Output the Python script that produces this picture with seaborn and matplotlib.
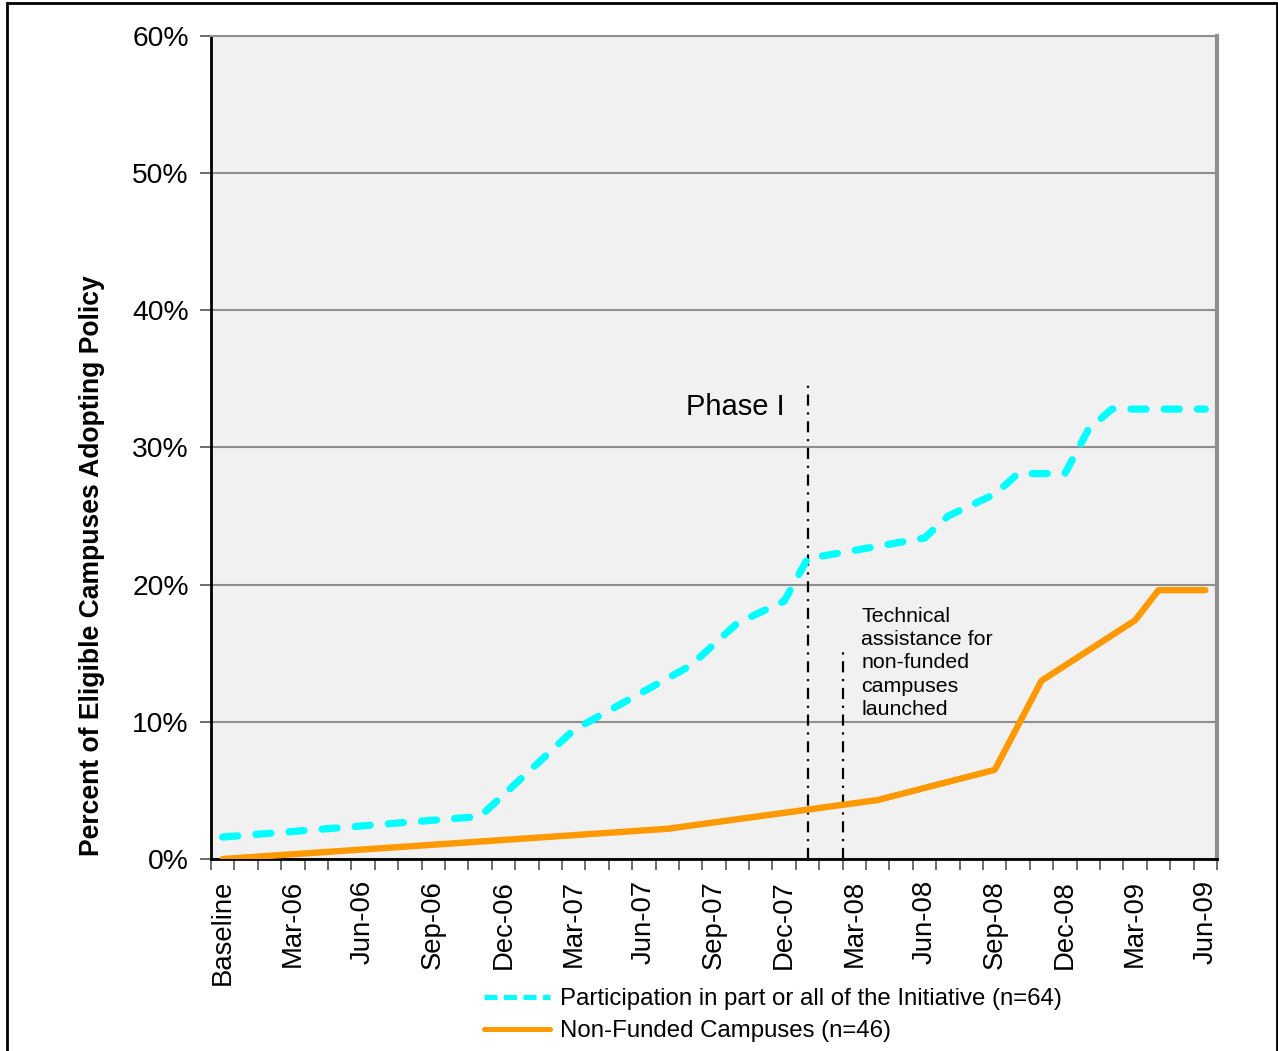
"""
Policy adoption over time: initiative participants vs non-funded campuses.
"""

import matplotlib
matplotlib.use("Agg")
import matplotlib.pyplot as plt
import matplotlib.patches as mpatches
from matplotlib.lines import Line2D
import seaborn as sns

# Category axis: Baseline (Dec-05) followed by monthly points up to Jun-09
months = ["Baseline"] + [
    f"{m}-{y:02d}"
    for y in range(6, 10)
    for m in ["Jan", "Feb", "Mar", "Apr", "May", "Jun",
              "Jul", "Aug", "Sep", "Oct", "Nov", "Dec"]
]
months = months[:43]
tick_labels = ["Baseline", "Mar-06", "Jun-06", "Sep-06", "Dec-06", "Mar-07",
               "Jun-07", "Sep-07", "Dec-07", "Mar-08", "Jun-08", "Sep-08",
               "Dec-08", "Mar-09", "Jun-09"]

# Participation in part or all of the Initiative (n=64)
initiative_months = ["Baseline", "Nov-06", "Mar-07", "Aug-07", "Oct-07", "Dec-07",
                     "Jan-08", "Jun-08", "Jul-08", "Sep-08", "Oct-08", "Dec-08",
                     "Jan-09", "Feb-09", "Jun-09"]
initiative_pct = [1.6, 3.1, 9.4, 14.1, 17.2, 18.8, 21.9, 23.4, 25.0, 26.6, 28.1,
                  28.1, 31.3, 32.8, 32.8]

# Non-Funded Campuses (n=46)
nonfunded_months = ["Baseline", "Jul-07", "Apr-08", "Sep-08", "Nov-08", "Mar-09",
                    "Apr-09", "Jun-09"]
nonfunded_pct = [0.0, 2.2, 4.3, 6.5, 13.0, 17.4, 19.6, 19.6]

initiative_label = "Participation in part or all of the Initiative (n=64)"
nonfunded_label = "Non-Funded Campuses (n=46)"

CYAN = "#00FFFF"
ORANGE = "#FF9900"

sns.set_style("white")
plt.rcParams["font.family"] = ["Liberation Sans", "DejaVu Sans"]
plt.rcParams["text.color"] = "black"
plt.rcParams["xtick.color"] = "black"
plt.rcParams["ytick.color"] = "black"

W, H = 1278, 1051
fig = plt.figure(figsize=(W / 100, H / 100), dpi=100)
ax = fig.add_axes([211 / W, 1 - 859 / H, (1217 - 211) / W, (859 - 36) / H])
ax.set_facecolor("#F1F1F1")

x_init = [months.index(m) for m in initiative_months]
x_nf = [months.index(m) for m in nonfunded_months]

sns.lineplot(x=x_nf, y=nonfunded_pct, ax=ax, color=ORANGE, linewidth=4.6,
             zorder=4, solid_capstyle="round")
sns.lineplot(x=x_init, y=initiative_pct, ax=ax, color=CYAN, linewidth=5.2,
             zorder=5)
cyan_line = ax.get_lines()[-1]
cyan_line.set_dashes((2.1, 2.5))
cyan_line.set_dash_capstyle("round")
cyan_line.set_solid_capstyle("round")

# annotation lines
ax.plot([25, 25], [0, 34.9], color="black", linewidth=1.6,
        linestyle=(0, (5, 3, 1, 3)), zorder=3)
ax.plot([26.5, 26.5], [0, 15.5], color="black", linewidth=1.6,
        linestyle=(0, (5, 3, 1, 3)), zorder=3)
ax.text(24.04, 32.95, "Phase I", fontsize=21, ha="right", va="center")
ax.text(27.3, 14.3, "Technical\nassistance for\nnon-funded\ncampuses\nlaunched",
        fontsize=15.4, ha="left", va="center", linespacing=1.29)

ax.set_xlim(-0.5, 42.5)
ax.set_ylim(0, 60)
ax.set_yticks(range(0, 61, 10))
ax.set_yticklabels([f"{v}%" for v in range(0, 61, 10)], fontsize=20.3)
ax.yaxis.grid(True, color="#8F8F8F", linewidth=1.5)
ax.set_axisbelow(True)
ax.tick_params(axis="y", length=8, width=1.2, color="#555555", pad=8, left=True)

ax.set_xticks([months.index(m) for m in tick_labels])
ax.set_xticklabels(tick_labels, rotation=90, fontsize=19.8, va="top")
ax.set_xticks([i - 0.5 for i in range(44)], minor=True)
ax.tick_params(axis="x", which="major", length=0, pad=15)
ax.tick_params(axis="x", which="minor", length=8, width=1.2, color="#555555",
               bottom=True)
ax.set_xlabel("")
ax.set_ylabel("")

for side in ["left", "bottom"]:
    ax.spines[side].set_color("black")
    ax.spines[side].set_linewidth(2)
ax.spines["right"].set_color("#8F8F8F")
ax.spines["right"].set_linewidth(3)
ax.spines["top"].set_color("#8F8F8F")
ax.spines["top"].set_linewidth(1.5)

fig.text(92 / W, 1 - 566 / H, "Percent of Eligible Campuses Adopting Policy",
         rotation=90, ha="center", va="center", fontsize=19.1, fontweight="bold")

legend_handles = [
    Line2D([], [], color=CYAN, linewidth=3.6, dashes=(2.6, 1.3)),
    Line2D([], [], color=ORANGE, linewidth=3.6),
]
fig.legend(legend_handles, [initiative_label, nonfunded_label],
           loc="upper left", bbox_to_anchor=(484 / W, 1 - 988 / H),
           frameon=False, fontsize=17.3, handlelength=2.75, handletextpad=0.4,
           labelspacing=0.42, borderpad=0, borderaxespad=0)

fig.patches.append(mpatches.Rectangle((7 / W, -0.01), (1277 - 7) / W, 1.01 - 3 / H,
                                      transform=fig.transFigure, fill=False,
                                      edgecolor="black", linewidth=2))

fig.savefig("out.png", dpi=100)
